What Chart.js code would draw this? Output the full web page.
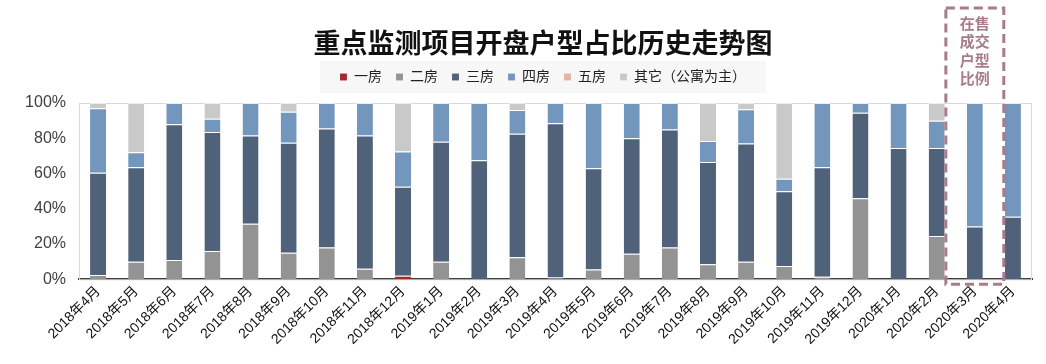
<!DOCTYPE html>
<html>
<head>
<meta charset="utf-8">
<script src="https://cdn.jsdelivr.net/npm/chart.js@4/dist/chart.umd.min.js"></script>
<style>
  html,body{margin:0;padding:0;background:#fff;}
  #wrap{position:relative;width:1046px;height:364px;}
</style>
</head>
<body>
<div id="wrap"><canvas id="c" width="1046" height="364"></canvas></div>
<script>
const categories = ["2018年4月","2018年5月","2018年6月","2018年7月","2018年8月","2018年9月","2018年10月","2018年11月","2018年12月","2019年1月","2019年2月","2019年3月","2019年4月","2019年5月","2019年6月","2019年7月","2019年8月","2019年9月","2019年10月","2019年11月","2019年12月","2020年1月","2020年2月","2020年3月","2020年4月"];
const oneRoom   = [0,0,0,0,0,0,0,0,2,0,0,0,0,0,0,0,0,0,0,0,0,0,0,0,0];
const twoRoom   = [2.5,10,11,16,31.5,15,18,6,0,10,0,12.5,1,5.5,14.5,18,8.5,10,7.5,1.5,46,0,24.5,0,0];
const threeRoom = [58,53.5,77,67.5,50,62.5,67.5,75.5,50.5,68,67.5,70,87.5,57.5,65.5,67,58,67,42.5,62,48.5,74.5,50,30,35.5];
const fourRoom  = [36.5,8.5,12,7.5,18.5,17.5,14.5,18.5,20,22,32.5,13.5,11.5,37,20,15,12,19.5,7,36.5,5.5,25.5,15.5,70,64.5];
const fiveRoom  = [0,0,0,0,0,0,0,0,0,0,0,0,0,0,0,0,0,0,0,0,0,0,0,0,0];
const otherRoom = [3,28,0,9,0,5,0,0,27.5,0,0,4,0,0,0,0,21.5,3.5,43,0,0,0,10,0,0];
const yTicks = [0,20,40,60,80,100];
const boxLabel = ["在售","成交","户型","比例"];
const boxIndex = 23;

const FONT = "'Liberation Sans','Noto Sans CJK SC',sans-serif";

const decor = {
  id: 'decor',
  beforeDraw(chart) {
    const ctx = chart.ctx;
    const lg = chart.legend;
    if (lg && lg.legendHitBoxes && lg.legendHitBoxes.length) {
      let minX = Infinity, maxX = -Infinity, minY = Infinity, maxY = -Infinity;
      lg.legendHitBoxes.forEach(h => {
        minX = Math.min(minX, h.left); maxX = Math.max(maxX, h.left + h.width);
        minY = Math.min(minY, h.top); maxY = Math.max(maxY, h.top + h.height);
      });
      ctx.save();
      ctx.fillStyle = '#f7f7f7';
      ctx.fillRect(minX - 20, minY - 9, (maxX - minX) + 40, (maxY - minY) + 18);
      ctx.restore();
    }
  },
  beforeDatasetsDraw(chart) {
    const ctx = chart.ctx, a = chart.chartArea;
    ctx.save();
    ctx.strokeStyle = '#d9d9d9';
    ctx.lineWidth = 1;
    ctx.strokeRect(a.left + 0.5, a.top + 0.5, a.right - a.left - 1, a.bottom - a.top);
    ctx.restore();
  },
  afterDraw(chart) {
    const ctx = chart.ctx, a = chart.chartArea;
    const xs = chart.scales.x;
    const cx = xs.getPixelForValue(boxIndex);
    const step = xs.getPixelForValue(1) - xs.getPixelForValue(0);
    const half = step * 0.76;
    ctx.save();
    ctx.strokeStyle = '#a77d8b';
    ctx.lineWidth = 3;
    ctx.setLineDash([9, 5]);
    ctx.strokeRect(cx - half, 8, half * 2, a.bottom + 5 - 8);
    ctx.setLineDash([]);
    ctx.fillStyle = '#a77d8b';
    ctx.font = "bold 15px 'Noto Sans CJK SC',sans-serif";
    ctx.textAlign = 'center';
    ctx.textBaseline = 'middle';
    boxLabel.forEach((t, i) => ctx.fillText(t, cx, 23 + i * 18.5));
    ctx.restore();
  }
};

const mk = (label, data, color) => ({
  label, data, backgroundColor: color,
  borderColor: 'rgba(255,255,255,0.55)',
  borderWidth: {top: 1, bottom: 0, left: 0, right: 0},
  borderSkipped: false,
  barPercentage: 0.42, categoryPercentage: 1.0
});

new Chart(document.getElementById('c'), {
  type: 'bar',
  data: {
    labels: categories,
    datasets: [
      mk('一房', oneRoom, '#a5282c'),
      mk('二房', twoRoom, '#939393'),
      mk('三房', threeRoom, '#4f6279'),
      mk('四房', fourRoom, '#7396bd'),
      mk('五房', fiveRoom, '#e7b39f'),
      mk('其它（公寓为主）', otherRoom, '#c9c9c9')
    ]
  },
  options: {
    responsive: false,
    animation: false,
    devicePixelRatio: 1,
    layout: { padding: { top: 0, right: 14, bottom: 12, left: 54 } },
    plugins: {
      title: {
        display: true,
        text: '重点监测项目开盘户型占比历史走势图',
        color: '#111',
        font: { family: "'Noto Sans CJK SC',sans-serif", size: 27, weight: 'bold', lineHeight: 1 },
        padding: { top: 29, bottom: 0 }
      },
      subtitle: {
        display: true,
        text: '',
        weight: 500,
        font: { size: 9, lineHeight: 1 },
        padding: 0
      },
      legend: {
        display: true,
        position: 'top',
        labels: {
          boxWidth: 7, boxHeight: 7,
          padding: 14,
          color: '#222',
          font: { family: FONT, size: 14 }
        }
      },
      tooltip: { enabled: false }
    },
    scales: {
      x: {
        stacked: true,
        grid: { display: false, drawTicks: false },
        border: { display: true, color: '#404040', width: 2 },
        ticks: {
          color: '#111', maxRotation: 45, minRotation: 45, autoSkip: false,
          font: { family: FONT, size: 14 }, padding: 4
        }
      },
      y: {
        stacked: true, min: 0, max: 100,
        afterBuildTicks(s) { s.ticks = yTicks.map(v => ({ value: v })); },
        afterFit(s) { s.width = 25; s._computeLabelArea = () => undefined; },
        grid: { display: false, drawTicks: false },
        border: { display: false },
        ticks: {
          color: '#404040', padding: 13,
          font: { family: FONT, size: 16 },
          callback: v => v + '%'
        }
      }
    }
  },
  plugins: [decor]
});
</script>
</body>
</html>
